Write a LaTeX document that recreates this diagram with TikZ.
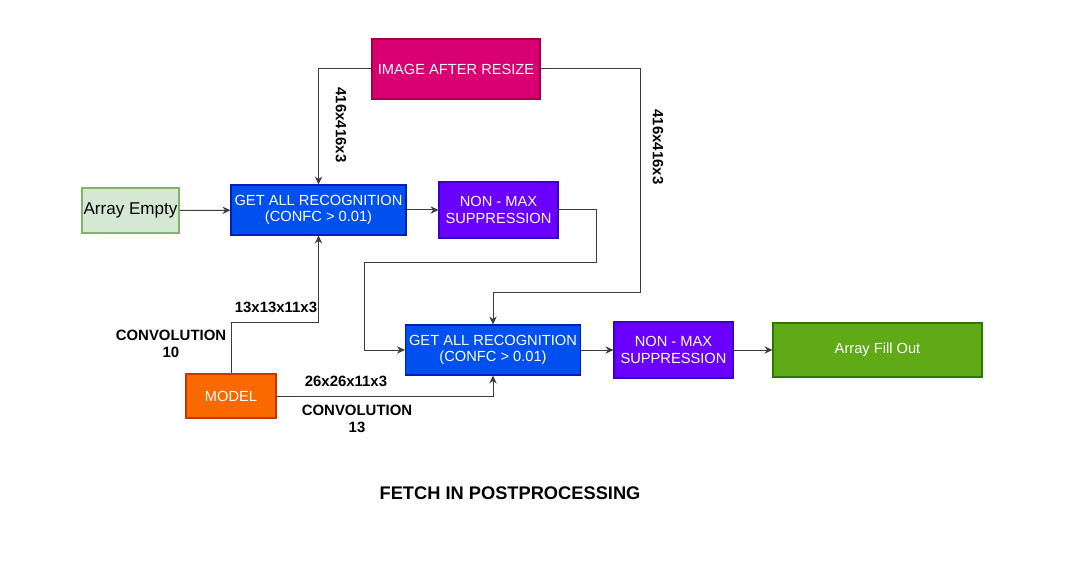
\documentclass[tikz,border=0pt]{standalone}
\usepackage{fontspec}
\setmainfont{Liberation Sans}
\usetikzlibrary{arrows.meta,calc}

\definecolor{imgfill}{HTML}{D80073}
\definecolor{imgdraw}{HTML}{A50040}
\definecolor{getfill}{HTML}{0050EF}
\definecolor{getdraw}{HTML}{001DBC}
\definecolor{nmsfill}{HTML}{6A00FF}
\definecolor{nmsdraw}{HTML}{3700CC}
\definecolor{modfill}{HTML}{FA6800}
\definecolor{moddraw}{HTML}{C73500}
\definecolor{outfill}{HTML}{60A917}
\definecolor{outdraw}{HTML}{2D7600}
\definecolor{emptyfill}{HTML}{D5E8D4}
\definecolor{emptydraw}{HTML}{82B366}
\definecolor{wire}{HTML}{3C3C3C}

\tikzset{
  box/.style={draw, line width=0.8pt, inner sep=0pt, align=center, text=white,
    font=\fontsize{11}{12.5}\selectfont},
  wire/.style={draw=wire, line width=0.75pt, -{Stealth[length=6pt,width=5.5pt]}},
  lbl/.style={font=\fontsize{11.2}{13}\selectfont\bfseries, align=center},
}

\begin{document}
\begin{tikzpicture}[x=0.75pt, y=-0.75pt]
    \useasboundingbox (0,0) rectangle (1069,570);

    % 方框
    \node[box, fill=imgfill, draw=imgdraw, minimum width=126pt, minimum height=45pt]
        (img) at (456,69) {IMAGE AFTER RESIZE};
    \node[box, fill=emptyfill, draw=emptydraw, text=black, minimum width=72.75pt, minimum height=33.75pt,
        font=\fontsize{12.8}{14}\selectfont] (empty) at (130.5,210.5) {Array Empty};
    \node[box, fill=getfill, draw=getdraw, minimum width=131.25pt, minimum height=37.5pt]
        (get1) at (318.5,210) {GET ALL RECOGNITION\\(CONFC > 0.01)};
    \node[box, fill=nmsfill, draw=nmsdraw, minimum width=89.25pt, minimum height=42pt]
        (nms1) at (498.5,210) {NON - MAX\\SUPPRESSION};
    \node[box, fill=getfill, draw=getdraw, minimum width=131.25pt, minimum height=37.5pt]
        (get2) at (493,350) {GET ALL RECOGNITION\\(CONFC > 0.01)};
    \node[box, fill=nmsfill, draw=nmsdraw, minimum width=89.25pt, minimum height=42pt]
        (nms2) at (673.5,350) {NON - MAX\\SUPPRESSION};
    \node[box, fill=outfill, draw=outdraw, minimum width=156.75pt, minimum height=40.5pt]
        (fill) at (877.5,350) {Array Fill Out};
    \node[box, fill=modfill, draw=moddraw, minimum width=67.5pt, minimum height=33pt]
        (model) at (231,396) {MODEL};

    % 拐点
    \coordinate (r1) at (640,292);
    \coordinate (k1) at (596,262);
    \coordinate (k2) at (364,262);
    \coordinate (m1) at (231,322);

    % 连线
    \draw[wire] (img.west) -| (get1.north);
    \draw[wire] (img.east) -| (r1) -| (get2.north);
    \draw[wire] (empty) -- (get1);
    \draw[wire] (get1) -- (nms1);
    \draw[wire] (nms1.east) -| (k1) -- (k2) |- (get2.west);
    \draw[wire] (model.north) -- (m1) -| (get1.south);
    \draw[wire] (model.east) -| (get2.south);
    \draw[wire] (get2) -- (nms2);
    \draw[wire] (nms2) -- (fill);

    % 标签
    \node[lbl, rotate=-90] (l1) at (341,125) {416x416x3};
    \node[lbl, rotate=-90] (l2) at (658,147) {416x416x3};
    \node[lbl] (l3) at (276,307) {13x13x11x3};
    \node[lbl] (l4) at (171,344) {CONVOLUTION\\10};
    \node[lbl] (l5) at (346,381) {26x26x11x3};
    \node[lbl] (l6) at (357,419) {CONVOLUTION\\13};

    \node[font=\fontsize{13.7}{16}\selectfont\bfseries] (title) at (510,493) {FETCH IN POSTPROCESSING};
\end{tikzpicture}
\end{document}
